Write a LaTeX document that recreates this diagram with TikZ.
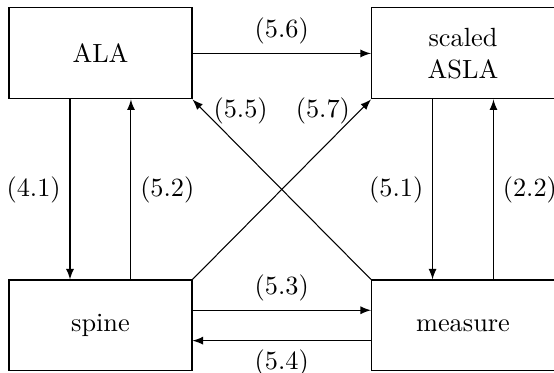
\documentclass[tikz,border=0pt]{standalone}
\usepackage{amsmath}
\usepackage{tikz}

\begin{document}
\begin{tikzpicture}[>=latex,
    box/.style={shape=rectangle,draw=black,align=center,minimum width=2.444cm,minimum height=1.215cm}]
	\useasboundingbox (-1.342,-0.634) rectangle (6.057,4.347);
	\node[box] (ala)   at (0, 3.633)     {ALA};
	\node[box] (asla)  at (4.842, 3.633) {scaled\\ASLA};
	\node[box] (spine) at (0, 0)         {spine};
	\node[box] (meas)  at (4.842, 0)     {measure};
    \path[->] (ala.east) edge node[above] {(5.6)} (asla.west);
    \path[->] ([xshift=-0.407cm]ala.south) edge node[left] {(4.1)} ([xshift=-0.407cm]spine.north);
    \path[->] ([xshift=0.407cm]spine.north) edge node[right] {(5.2)} ([xshift=0.407cm]ala.south);
    \path[->] ([xshift=-0.407cm]asla.south) edge node[left] {(5.1)} ([xshift=-0.407cm]meas.north);
    \path[->] ([xshift=0.407cm]meas.north) edge node[right] {(2.2)} ([xshift=0.407cm]asla.south);
    \path[->] ([yshift=0.203cm]spine.east) edge node[above] {(5.3)} ([yshift=0.203cm]meas.west);
    \path[->] ([yshift=-0.203cm]meas.west) edge node[below] {(5.4)} ([yshift=-0.203cm]spine.east);
    \path[->] (meas.north west) edge node[pos=0.934,anchor=west] {(5.5)} (ala.south east);
    \path[->] (spine.north east) edge node[pos=0.934,anchor=east] {(5.7)} (asla.south west);
\end{tikzpicture}
\end{document}
